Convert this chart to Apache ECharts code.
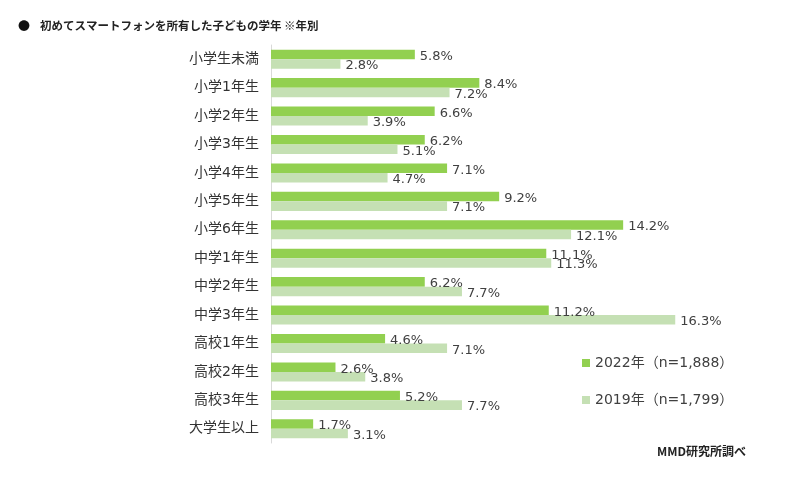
<!DOCTYPE html>
<html><head><meta charset="utf-8">
<script src="https://cdn.jsdelivr.net/npm/echarts@6/dist/echarts.min.js"></script>
<style>html,body{margin:0;padding:0;background:#fff}#c{width:800px;height:479px}</style>
</head><body><div id="c"></div>
<script>
const categories = ['小学生未満','小学1年生','小学2年生','小学3年生','小学4年生','小学5年生','小学6年生','中学1年生','中学2年生','中学3年生','高校1年生','高校2年生','高校3年生','大学生以上'];
const series2022 = [5.8, 8.4, 6.6, 6.2, 7.1, 9.2, 14.2, 11.1, 6.2, 11.2, 4.6, 2.6, 5.2, 1.7];
const series2019 = [2.8, 7.2, 3.9, 5.1, 4.7, 7.1, 12.1, 11.3, 7.7, 16.3, 7.1, 3.8, 7.7, 3.1];
const name2022 = '2022年（n=1,888）';
const name2019 = '2019年（n=1,799）';
const titleBullet = '●';
const titleText = '初めてスマートフォンを所有した子どもの学年 ※年別';
const sourceText = 'MMD研究所調べ';

const CJK = '"Noto Sans CJK JP", "Noto Sans", sans-serif';
const MIX = '"DejaVu Sans", "Noto Sans CJK JP", sans-serif';
const chart = echarts.init(document.getElementById('c'));
const lbl = {
  show: true, position: 'right', distance: 5, offset: [0, 2],
  color: '#404040', fontSize: 13, fontFamily: MIX,
  formatter: p => p.value.toFixed(1) + '%'
};
chart.setOption({
  animation: false,
  textStyle: { fontFamily: MIX },
  graphic: [
    { type: 'text', left: 18, top: 20, style: { text: titleBullet, fontSize: 12, fill: '#111', fontFamily: CJK } },
    { type: 'text', left: 40, top: 20, style: { text: titleText, fontSize: 11.5, fontWeight: 'bold', fill: '#222', fontFamily: CJK } },
    { type: 'text', left: 657, top: 445, style: { text: sourceText, fontSize: 12, fontWeight: 'bold', fill: '#222', fontFamily: CJK } }
  ],
  legend: {
    orient: 'vertical', left: 577, top: 351, itemGap: 23,
    itemWidth: 8, itemHeight: 8, icon: 'rect',
    textStyle: { fontSize: 14, color: '#404040', fontFamily: MIX },
    data: [name2022, name2019]
  },
  grid: { left: 271, right: 33, top: 45, bottom: 36, containLabel: false },
  xAxis: { type: 'value', min: 0, max: 20, show: false },
  yAxis: {
    type: 'category', data: categories, inverse: true,
    axisLine: { show: true, lineStyle: { color: '#d9d9d9', width: 1 } },
    axisTick: { show: false },
    axisLabel: { fontSize: 14, color: '#333', margin: 12, fontFamily: MIX }
  },
  series: [
    { name: name2022, type: 'bar', data: series2022, itemStyle: { color: '#92D050' }, barGap: '0%', barCategoryGap: '33%', label: lbl },
    { name: name2019, type: 'bar', data: series2019, itemStyle: { color: '#C5E0B4' }, barGap: '0%', barCategoryGap: '33%', label: lbl }
  ]
});
</script></body></html>
